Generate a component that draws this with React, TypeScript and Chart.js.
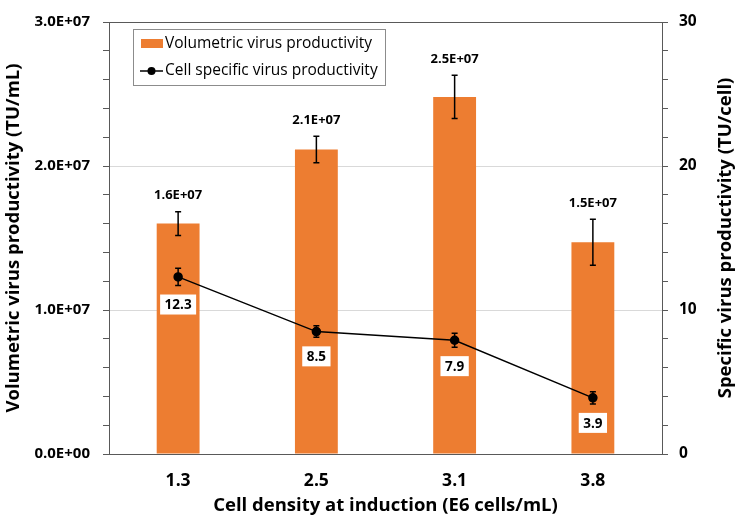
import React, { useEffect, useRef } from 'react';
import { Chart, registerables } from 'chart.js';

Chart.register(...registerables);

const categories = ['1.3', '2.5', '3.1', '3.8'];
const volumetric = [1.6e7, 2.115e7, 2.48e7, 1.47e7];
const volumetricErr = [0.82e6, 0.92e6, 1.5e6, 1.6e6];
const specific = [12.3, 8.5, 7.9, 3.9];
const specificErr = [0.6, 0.4, 0.48, 0.42];
const leftMajorStep = 1e7;
const rightMajorStep = 10;
const seriesNames = ['Volumetric virus productivity', 'Cell specific virus productivity'];
const xTitle = 'Cell density at induction (E6 cells/mL)';
const yTitle = 'Volumetric virus productivity (TU/mL)';
const y1Title = 'Specific virus productivity (TU/cell)';

const FONT = '"Open Sans"';
const ORANGE = '#ED7D31';
const AXIS = '#595959';

function sci(v: number): string {
  if (v === 0) return '0.0E+00';
  let e = Math.floor(Math.log10(Math.abs(v)));
  let ms = (v / Math.pow(10, e)).toFixed(1);
  if (ms === '10.0') {
    ms = '1.0';
    e += 1;
  }
  return ms + 'E' + (e >= 0 ? '+' : '-') + String(Math.abs(e)).padStart(2, '0');
}

const overlay = {
  id: 'overlay',
  afterDatasetsDraw(chart: any) {
    const ctx = chart.ctx as CanvasRenderingContext2D;
    const x = chart.scales.x;
    const y = chart.scales.y;
    const y1 = chart.scales.y1;
    ctx.save();
    const drawErr = (px: number, top: number, bot: number) => {
      ctx.beginPath();
      ctx.moveTo(px, top);
      ctx.lineTo(px, bot);
      ctx.moveTo(px - 3, top);
      ctx.lineTo(px + 3, top);
      ctx.moveTo(px - 3, bot);
      ctx.lineTo(px + 3, bot);
      ctx.stroke();
    };
    ctx.strokeStyle = '#000';
    ctx.lineWidth = 1.5;
    categories.forEach((_, i) => {
      const px = x.getPixelForValue(i);
      const t = y.getPixelForValue(volumetric[i] + volumetricErr[i]);
      const b = y.getPixelForValue(volumetric[i] - volumetricErr[i]);
      drawErr(px, t, b);
      ctx.fillStyle = '#000';
      ctx.font = `bold 13px ${FONT}`;
      ctx.textAlign = 'center';
      ctx.textBaseline = 'middle';
      ctx.fillText(sci(volumetric[i]), px, t - 16);

      const t1 = y1.getPixelForValue(specific[i] + specificErr[i]);
      const b1 = y1.getPixelForValue(specific[i] - specificErr[i]);
      drawErr(px, t1, b1);
      const label = specific[i].toFixed(1);
      ctx.font = `bold 13.5px ${FONT}`;
      const w = ctx.measureText(label).width + 9;
      const cy = b1 + 19;
      ctx.fillStyle = '#fff';
      ctx.fillRect(px - w / 2, cy - 10, w, 20);
      ctx.fillStyle = '#000';
      ctx.fillText(label, px, cy + 1);
    });
    ctx.restore();
  },
  afterDraw(chart: any) {
    const ctx = chart.ctx as CanvasRenderingContext2D;
    const area = chart.chartArea;
    ctx.save();
    // legend
    ctx.fillStyle = '#fff';
    ctx.fillRect(133.5, 29.5, 252, 56);
    ctx.strokeStyle = '#8c8c8c';
    ctx.lineWidth = 1;
    ctx.strokeRect(133.5, 29.5, 252, 56);
    ctx.fillStyle = ORANGE;
    ctx.fillRect(141, 39, 22, 9);
    ctx.strokeStyle = '#000';
    ctx.lineWidth = 1.5;
    ctx.beginPath();
    ctx.moveTo(140, 71);
    ctx.lineTo(163, 71);
    ctx.stroke();
    ctx.fillStyle = '#000';
    ctx.beginPath();
    ctx.arc(151.5, 71, 4, 0, Math.PI * 2);
    ctx.fill();
    ctx.font = `15.5px ${FONT}`;
    ctx.textAlign = 'left';
    ctx.textBaseline = 'middle';
    ctx.fillStyle = '#000';
    ctx.fillText(seriesNames[0], 165, 44);
    ctx.fillText(seriesNames[1], 165, 71);

    // axis titles
    ctx.font = `bold 18.5px ${FONT}`;
    ctx.textAlign = 'center';
    ctx.textBaseline = 'middle';
    ctx.fillText(xTitle, (area.left + area.right) / 2, 506);
    const cy = (area.top + area.bottom) / 2;
    ctx.save();
    ctx.translate(14, cy);
    ctx.rotate(-Math.PI / 2);
    ctx.fillText(yTitle, 0, 0);
    ctx.restore();
    ctx.save();
    ctx.translate(726, cy);
    ctx.rotate(-Math.PI / 2);
    ctx.fillText(y1Title, 0, 0);
    ctx.restore();
    ctx.restore();
  },
};

export default function App() {
  const ref = useRef<HTMLCanvasElement>(null);
  useEffect(() => {
    document.body.style.margin = '0';
    const chart = new Chart(ref.current as HTMLCanvasElement, {
      type: 'bar',
      data: {
        labels: categories,
        datasets: [
          {
            type: 'bar',
            label: seriesNames[0],
            data: volumetric,
            backgroundColor: ORANGE,
            yAxisID: 'y',
            barPercentage: 0.31,
            categoryPercentage: 1,
            order: 2,
          },
          {
            type: 'line',
            label: seriesNames[1],
            data: specific,
            borderColor: '#000',
            backgroundColor: '#000',
            borderWidth: 1.5,
            pointRadius: 4,
            pointBackgroundColor: '#000',
            pointBorderColor: '#000',
            yAxisID: 'y1',
            order: 1,
          } as any,
        ],
      },
      options: {
        animation: false,
        responsive: false,
        maintainAspectRatio: false,
        layout: { padding: { top: 10, left: 0, right: 0, bottom: 0 } },
        plugins: { legend: { display: false }, tooltip: { enabled: false } },
        scales: {
          x: {
            offset: true,
            grid: { display: false, drawTicks: false },
            border: { display: true, color: AXIS, width: 1 },
            ticks: { color: '#000', font: { family: FONT, size: 17.5, weight: 'bold' }, padding: 17 },
            afterFit: (s: any) => {
              s.height = 73;
            },
          },
          y: {
            position: 'left',
            min: 0,
            max: 3e7,
            grid: {
              color: (c: any) =>
                c.tick && c.tick.value === 3e7
                  ? AXIS
                  : c.tick && c.tick.value % leftMajorStep === 0
                  ? '#d9d9d9'
                  : 'rgba(0,0,0,0)',
              tickColor: AXIS,
              tickLength: 6,
            },
            border: { display: true, color: AXIS, width: 1 },
            ticks: {
              stepSize: 2e6,
              autoSkip: false,
              color: '#000',
              padding: 13,
              font: { family: FONT, size: 15, weight: 'bold' },
              callback: (v: any) => (Number(v) % leftMajorStep === 0 ? sci(Number(v)) : ''),
            },
            afterFit: (s: any) => {
              s.width = 109;
            },
          },
          y1: {
            position: 'right',
            min: 0,
            max: 30,
            grid: { drawOnChartArea: false, tickColor: AXIS, tickLength: 6 },
            border: { display: true, color: AXIS, width: 1 },
            ticks: {
              stepSize: 2,
              autoSkip: false,
              color: '#000',
              padding: 11,
              font: { family: FONT, size: 15.5, weight: 'bold' },
              callback: (v: any) => (Number(v) % rightMajorStep === 0 ? String(v) : ''),
            },
            afterFit: (s: any) => {
              s.width = 76;
            },
          },
        },
      },
      plugins: [overlay],
    });
    return () => chart.destroy();
  }, []);
  return (
    <div style={{ position: 'absolute', left: 0, top: 0, width: 738, height: 527 }}>
      <canvas ref={ref} width={738} height={527} />
    </div>
  );
}
